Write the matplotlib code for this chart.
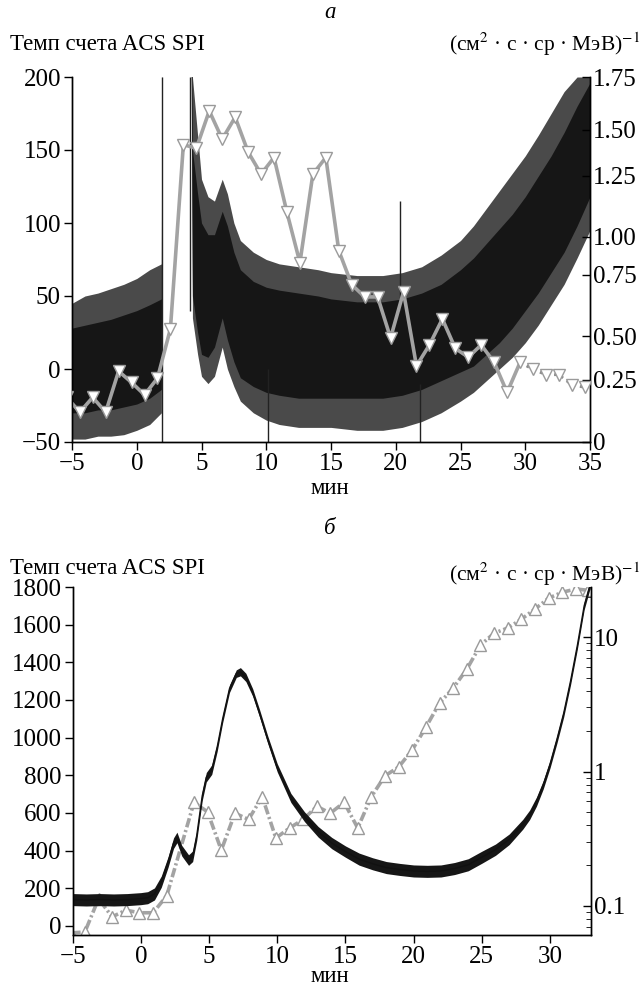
import numpy as np
import matplotlib
matplotlib.use("Agg")
import matplotlib.pyplot as plt
from matplotlib.ticker import FixedLocator, NullLocator

plt.rcParams['font.family'] = ['Liberation Serif', 'DejaVu Serif']
plt.rcParams['mathtext.fontset'] = 'stix'
plt.rcParams['axes.linewidth'] = 1.0
FS = 18      # tick labels
FT = 16.5    # texts

# ---- panel a: ACS SPI count rate (envelope of the noisy trace)
a_x = [-5, -4, -3, -2, -1, 0, 1, 1.9, 1.95, 4.15, 4.3, 4.7, 5.0, 5.5, 6.0, 6.6, 7.0, 7.5, 8.0,
       9, 10, 11, 12.5, 14, 15, 17, 19, 20.5, 22, 23.5, 25, 26, 27, 28, 29, 30, 31, 32, 33, 34, 35]
a_core_hi = [28, 30, 32, 34, 37, 40, 44, 48, 300, 300, 150, 120, 100, 92, 92, 108, 98, 80, 68,
             60, 56, 54, 52, 50, 48, 46, 46, 48, 52, 58, 68, 76, 86, 96, 106, 118, 132, 146, 162, 180, 196]
a_core_lo = [-30, -30, -28, -28, -26, -24, -20, -14, 300, 300, 50, 25, 10, 8, 15, 35, 20, 5, -6,
             -12, -16, -18, -20, -20, -20, -20, -20, -18, -14, -8, -2, 2, 10, 18, 28, 40, 52, 66, 80, 98, 118]
a_out_hi = [45, 50, 52, 55, 58, 62, 68, 72, 300, 300, 200, 160, 130, 118, 115, 130, 120, 100, 88,
            80, 75, 72, 70, 68, 66, 64, 64, 66, 70, 78, 88, 98, 110, 122, 134, 146, 160, 175, 190, 200, 200]
a_out_lo = [-48, -48, -46, -46, -45, -42, -38, -30, 300, 300, 35, 10, -5, -10, -5, 15, 0, -12, -22,
            -30, -35, -38, -40, -40, -40, -42, -42, -40, -36, -30, -22, -16, -8, 0, 8, 18, 30, 44, 58, 76, 95]
a_spike_x = [1.95, 4.15, 20.3, 10.1, 21.9]
a_spike_lo = [-50, 40, 40, -50, -50]
a_spike_hi = [200, 200, 115, 0, -10]

# panel a: proton flux, right axis
a_fx = [-5.4, -4.4, -3.4, -2.4, -1.4, -0.4, 0.6, 1.6, 2.6, 3.6, 4.6, 5.6, 6.6, 7.6, 8.6, 9.6,
        10.6, 11.6, 12.6, 13.6, 14.6, 15.6, 16.6, 17.6, 18.6, 19.6, 20.6, 21.6, 22.6, 23.6,
        24.6, 25.6, 26.6, 27.6, 28.6, 29.6, 30.6, 31.6, 32.6, 33.6, 34.6]
a_flux = [0.18, 0.12, 0.18, 0.12, 0.30, 0.24, 0.19, 0.26, 0.53, 1.42, 1.40, 1.59, 1.45, 1.56,
          1.38, 1.26, 1.35, 1.10, 0.83, 1.26, 1.35, 0.91, 0.71, 0.66, 0.66, 0.49, 0.68, 0.33,
          0.45, 0.57, 0.43, 0.38, 0.45, 0.35, 0.20, 0.35, 0.31, 0.28, 0.28, 0.23, 0.22]
a_rticks = [0, 0.25, 0.5, 0.75, 1.0, 1.25, 1.5, 1.75]
a_rlabels = ['0', '0.25', '0.50', '0.75', '1.00', '1.25', '1.50', '1.75']

# ---- panel b
b_x = [-5, -4, -3, -2, -1, 0, 0.5, 1, 1.5, 2.0, 2.4, 2.65, 3.0, 3.5, 3.8, 4.1, 4.5, 4.8, 5.2,
       5.6, 6.0, 6.5, 7.0, 7.3, 7.7, 8.2, 8.7, 9.3, 10, 11, 12, 13, 14, 15, 16, 17, 18, 19, 20,
       21, 22, 23, 24, 25, 26, 27, 28, 28.5, 29, 29.5, 30, 30.5, 31, 31.5, 32, 32.5, 33]
b_rate = [140, 138, 140, 138, 140, 145, 150, 170, 235, 340, 440, 470, 400, 350, 370, 480, 690,
          790, 830, 950, 1100, 1260, 1340, 1350, 1320, 1240, 1130, 990, 840, 680, 580, 500, 440,
          395, 355, 330, 310, 300, 292, 290, 292, 305, 325, 365, 405, 460, 540, 590, 660, 750,
          860, 990, 1130, 1300, 1490, 1700, 1830]
b_noise = [32, 32, 32, 32, 32, 32, 32, 32, 30, 28, 28, 28, 28, 28, 28, 26, 25, 25, 25, 22, 20,
           20, 20, 22, 22, 20, 20, 20, 22, 24, 26, 28, 30, 30, 32, 32, 32, 32, 32, 32, 32, 32, 32,
           32, 30, 28, 26, 25, 24, 22, 20, 20, 20, 20, 20, 20, 20]

b_fx = [-5.1, -4.1, -3.1, -2.1, -1.1, -0.1, 0.9, 1.9, 3.9, 4.9, 5.9, 6.9, 7.9, 8.9, 9.9, 10.9,
        11.9, 12.9, 13.9, 14.9, 15.9, 16.9, 17.9, 18.9, 19.9, 20.9, 21.9, 22.9, 23.9, 24.9,
        25.9, 26.9, 27.9, 28.9, 29.9, 30.9, 31.9, 32.8]
b_flux = [0.063, 0.064, 0.113, 0.083, 0.093, 0.089, 0.089, 0.119, 0.59, 0.50, 0.26, 0.49, 0.44,
          0.65, 0.32, 0.38, 0.44, 0.55, 0.49, 0.59, 0.38, 0.65, 0.93, 1.08, 1.45, 2.14, 3.23,
          4.18, 5.78, 8.72, 10.7, 11.7, 13.6, 16.2, 19.5, 21.6, 22.8, 22.3]

GRAY = '#a3a3a3'
MEDGE = '#9a9a9a'

fig = plt.figure(figsize=(6.44, 9.99), dpi=100)


def style(ax):
    ax.spines['top'].set_visible(False)
    ax.tick_params(labelsize=FS, length=6, width=1, pad=2)


# ================= panel a =================
ax1 = fig.add_axes([72 / 644, 1 - 442 / 999, 518 / 644, 365 / 999])
ax1.fill_between(a_x, a_out_lo, a_out_hi, color='#4a4a4a', lw=0)
ax1.fill_between(a_x, a_core_lo, a_core_hi, color='#161616', lw=0)
ax1.vlines(a_spike_x, a_spike_lo, a_spike_hi, color='#222222', lw=1)
ax1.set_xlim(-5, 35)
ax1.set_ylim(-50, 200)
ax1.set_xticks(range(-5, 36, 5))
ax1.set_yticks([-50, 0, 50, 100, 150, 200])
style(ax1)
ax1.tick_params(direction='out')

ax2 = ax1.twinx()
r_pos = [0, 0.170, 0.290, 0.458, 0.562, 0.729, 0.855, 1.0]
fwd = lambda v: np.interp(v, a_rticks, r_pos)
inv = lambda p: np.interp(p, r_pos, a_rticks)
ax2.set_yscale('function', functions=(fwd, inv))
ax2.set_ylim(0, 1.75)
n_solid = 36
ax2.plot(a_fx[:n_solid], a_flux[:n_solid], color=GRAY, lw=2.6, zorder=2)
ax2.plot(a_fx[n_solid - 1:], a_flux[n_solid - 1:], color='#8c8c8c', lw=2, ls=':', zorder=2)
ax2.plot(a_fx, a_flux, ls='none', marker='v', ms=8, mfc='white', mec=MEDGE, mew=1, zorder=3)
ax2.yaxis.set_major_locator(FixedLocator(a_rticks))
ax2.yaxis.set_minor_locator(NullLocator())
ax2.set_yticklabels(a_rlabels)
style(ax2)
ax2.tick_params(direction='in')

# ================= panel b =================
ax3 = fig.add_axes([72.6 / 644, 1 - 935 / 999, 518.4 / 644, 348 / 999])
ax4 = ax3.twinx()
ax3.set_zorder(ax4.get_zorder() + 1)
ax3.patch.set_visible(False)

rate = np.array(b_rate)
noise = np.array(b_noise)
ax3.fill_between(b_x, rate - noise, rate + noise, color='#161616', lw=0)
ax3.plot(b_x, rate, color='#111111', lw=1)
ax3.set_xlim(-5, 33)
ax3.set_ylim(-48, 1800)
ax3.set_xticks(range(-5, 31, 5))
ax3.set_yticks(range(0, 1801, 200))
style(ax3)
ax3.tick_params(direction='out')

ax4.set_yscale('log')
ax4.set_ylim(0.0608, 23.6)
ax4.plot(b_fx, b_flux, color=GRAY, lw=2.6, dashes=(2.6, 0.8, 0.6, 0.8))
ax4.plot(b_fx, b_flux, ls='none', marker='^', ms=8, mfc='white', mec=MEDGE, mew=1)
ax4.set_yticks([0.1, 1, 10])
ax4.set_yticklabels(['0.1', '1', '10'])
style(ax4)
ax4.tick_params(which='both', direction='in')
ax4.tick_params(which='minor', length=3.5)
ax4.yaxis.set_minor_formatter(plt.NullFormatter())

# ---- texts
fig.text(330 / 644, 1 - 13 / 999, 'а', fontsize=FT, style='italic', ha='center', va='center')
fig.text(330 / 644, 1 - 529 / 999, 'б', fontsize=FT, style='italic', ha='center', va='center')
fig.text(10 / 644, 1 - 45 / 999, 'Темп счета ACS SPI', fontsize=FT, ha='left', va='center')
fig.text(10 / 644, 1 - 568 / 999, 'Темп счета ACS SPI', fontsize=FT, ha='left', va='center')
unit = '(см$^2$ · с · ср · МэВ)$^{-1}$'
fig.text(640 / 644, 1 - 44 / 999, unit, fontsize=15.5, ha='right', va='center')
fig.text(640 / 644, 1 - 574 / 999, unit, fontsize=15.5, ha='right', va='center')
fig.text(330 / 644, 1 - 488 / 999, 'мин', fontsize=FT, ha='center', va='center')
fig.text(330 / 644, 1 - 976 / 999, 'мин', fontsize=FT, ha='center', va='center')

fig.savefig('out.png', dpi=100)
